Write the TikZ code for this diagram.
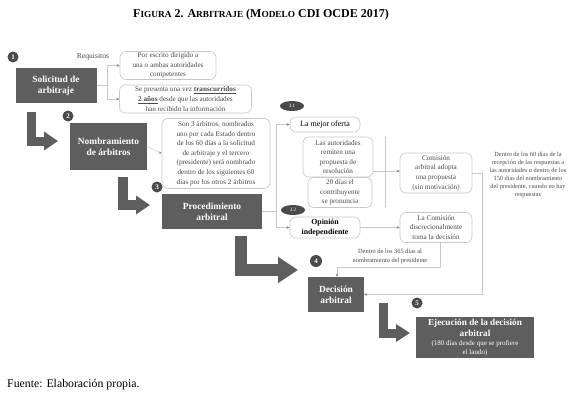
\documentclass[tikz,border=0pt]{standalone}
\usepackage{fontspec}
\setmainfont{Liberation Serif}
\usetikzlibrary{arrows.meta,calc,shapes.geometric}
\definecolor{boxgray}{HTML}{5E5E5E}
\definecolor{dotgray}{HTML}{4A4A4A}
\definecolor{linegray}{HTML}{C8C8C8}
\definecolor{txtgray}{HTML}{4A4A4A}
\newcommand{\tsc}[2]{{\fontsize{12}{14}\selectfont #1}{\fontsize{9.3}{14}\selectfont #2}}
\begin{document}
\begin{tikzpicture}[x=1pt,y=-1pt,
  darkbox/.style={fill=boxgray,text=white,font=\bfseries\fontsize{9.4}{11}\selectfont,align=center,inner sep=2pt},
  softbox/.style={draw=linegray,line width=0.6pt,rounded corners=6pt,text=txtgray,font=\fontsize{7.2}{9.6}\selectfont,align=center,inner sep=1pt},
  numdot/.style={circle,fill=dotgray,text=white,font=\bfseries\fontsize{7}{8}\selectfont,inner sep=0pt,minimum size=11pt},
  numoval/.style={ellipse,fill=dotgray,text=white,font=\fontsize{5}{6}\selectfont,inner sep=0pt,minimum width=24pt,minimum height=10pt},
  bigarr/.style={draw=boxgray,line join=miter},
  thinline/.style={draw=linegray,line width=0.5pt},
  smallarr/.style={draw=linegray,line width=0.5pt,-{Stealth[length=3pt,width=2.6pt,color=gray]}},
  plain/.style={text=txtgray,align=center,inner sep=0pt}]
\useasboundingbox (0,0) rectangle (581,400);
\fill[white] (0,0) rectangle (581,400);
% title
\node[font=\bfseries\fontsize{12}{14}\selectfont] (title) at (261,15) {\tsc{F}{IGURA} 2. \tsc{A}{RBITRAJE} (\tsc{M}{ODELO} CDI OCDE 2017)};
% step 1
\node[numdot] (n1) at (13,57) {1};
\node[darkbox,minimum width=81pt,minimum height=35pt] (sol) at (56,85.5) {Solicitud de\\arbitraje};
\node[plain,font=\fontsize{7.6}{9}\selectfont] (req) at (93,57) {Requisitos};
\node[softbox,minimum width=96pt,minimum height=28pt] (p1) at (168,65.5) {Por escrito dirigido a\\una o ambas autoridades\\competentes};
\node[softbox,minimum width=132pt,minimum height=28pt] (p2) at (185.5,99) {Se presenta una vez \underline{\textbf{transcurridos}}\\\underline{\textbf{2 años}} desde que las autoridades\\han recibido la información};
\coordinate (b1) at (107,85.5);
\coordinate (b1t) at (107,65.5);
\coordinate (b1b) at (107,99);
\draw[thinline] (sol.east) -- (b1);
\draw[thinline] (b1t) -- (b1b);
\draw[smallarr] (b1t) -- (p1.west);
\draw[smallarr] (b1b) -- (p2.west);
% arrow 1
\coordinate (a1s) at (31.5,112);
\coordinate (a1e) at (58,141);
\draw[bigarr,line width=9pt,-{Triangle[width=18pt,length=14pt]}] (a1s) |- (a1e);
% step 2
\node[numdot] (n2) at (68,116) {2};
\node[darkbox,minimum width=77pt,minimum height=47pt] (nom) at (108.5,146.5) {Nombramiento\\de árbitros};
\node[softbox,minimum width=108pt,minimum height=70pt] (son) at (216,153.5) {Son 3 árbitros, nombrados\\uno por cada Estado dentro\\de los 60 días a la solicitud\\de arbitraje y el tercero\\(presidente) será nombrado\\dentro de los siguientes 60\\días por los otros 2 árbitros};
\draw[smallarr] (nom.east) -- (son.west);
% arrow 2
\coordinate (a2s) at (123,177);
\coordinate (a2e) at (150,205);
\draw[bigarr,line width=10pt,-{Triangle[width=18pt,length=14pt]}] (a2s) |- (a2e);
% step 3
\node[numdot] (n3) at (157,187) {3};
\node[darkbox,minimum width=100pt,minimum height=35pt] (proc) at (212,211.5) {Procedimiento\\arbitral};
\node[numoval] (o31) at (292,106) {3.1};
\node[softbox,minimum width=70pt,minimum height=15pt,text=black,font=\fontsize{8}{10}\selectfont] (mej) at (325,124.5) {La mejor oferta};
\node[softbox,minimum width=70pt,minimum height=40pt] (aut) at (338,157) {Las autoridades\\remiten una\\propuesta de\\resolución};
\node[softbox,minimum width=64pt,minimum height=30pt] (d20) at (340,192.5) {20 días el\\contribuyente\\se pronuncia};
\node[softbox,minimum width=72pt,minimum height=40pt] (com1) at (436,173) {Comisión\\arbitral adopta\\una propuesta\\(sin motivación)};
\node[plain,font=\fontsize{6.3}{8}\selectfont] (t60) at (528,175) {Dentro de los 60 días de la\\recepción de las respuestas a\\las autoridades o dentro de los\\150 días del nombramiento\\del presidente, cuando no hay\\respuestas};
\node[numoval] (o32) at (293,210) {3.2};
\node[softbox,minimum width=70pt,minimum height=21pt,text=black,font=\bfseries\fontsize{7.8}{10}\selectfont] (op) at (325,227.5) {Opinión\\independiente};
\node[softbox,minimum width=72pt,minimum height=30pt] (com2) at (436,227.5) {La Comisión\\discrecionalmente\\toma la decisión};
\node[plain,font=\fontsize{6.4}{8.5}\selectfont] (t365) at (390,256.5) {Dentro de los 365 días al\\nombramiento del presidente};
% connectors of step 3
\coordinate (c3) at (276,211.5);
\coordinate (c3t) at (276,124.5);
\coordinate (c3b) at (276,227.5);
\draw[thinline] (proc.east) -- (c3);
\draw[thinline] (c3t) -- (c3b);
\draw[smallarr] (c3t) -- (mej.west);
\draw[smallarr] (c3b) -- (op.west);
\coordinate (br) at (385,171);
\draw[thinline] (385,137) -- (385,207);
\draw[thinline] (aut.east |- br) -- (br);
\draw[smallarr] (br) -- (com1.west |- br);
\draw[smallarr] (op.east) -- (com2.west);
% arrow 3
\coordinate (a3s) at (241,236);
\coordinate (a3e) at (298,270);
\draw[bigarr,line width=12pt,-{Triangle[width=25pt,length=20pt]}] (a3s) |- (a3e);
% step 4
\node[numdot,minimum size=12pt] (n4) at (316,261) {4};
\node[darkbox,minimum width=56pt,minimum height=35pt] (dec) at (336,294.5) {Decisión\\arbitral};
\coordinate (k1) at (482,173);
\coordinate (k2) at (482,294.5);
\draw[thinline,-{Stealth[length=3pt,width=2.6pt,color=gray]}] (com1.east) -- (k1) -- (k2) -- (dec.east);
\coordinate (m1) at (440,267);
\coordinate (m2) at (337,267);
\draw[thinline,-{Stealth[length=3pt,width=2.6pt,color=gray]}] (m1 |- com2.south) -- (m1) -- (m2) -- (m2 |- dec.north);
% arrow 4
\coordinate (a4s) at (383,303);
\coordinate (a4e) at (410,333);
\draw[bigarr,line width=9pt,-{Triangle[width=17pt,length=14pt]}] (a4s) |- (a4e);
% step 5
\node[numdot] (n5) at (417,303) {5};
\node[darkbox,minimum width=118pt,minimum height=41pt,font=\bfseries\fontsize{9.2}{10.5}\selectfont] (eje) at (475,337.5) {Ejecución de la decisión\\arbitral\\[-1pt]{\mdseries\fontsize{7}{9}\selectfont (180 días desde que se profiere}\\[-2pt]{\mdseries\fontsize{7}{9}\selectfont el laudo)}};
% source
\node[anchor=west,font=\fontsize{11.8}{13}\selectfont,inner sep=0pt] (src) at (7,385) {Fuente: Elaboración propia.};
\end{tikzpicture}
\end{document}
